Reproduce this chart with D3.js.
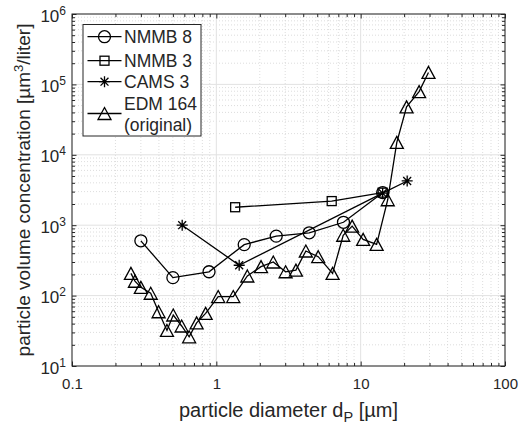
<!DOCTYPE html>
<html>
<head>
<meta charset="utf-8">
<script src="https://cdn.jsdelivr.net/npm/d3@7"></script>
<style>
  html, body { margin: 0; padding: 0; background: #fff; }
  svg { display: block; font-family: "Liberation Sans", Arial, Helvetica, sans-serif; }
</style>
</head>
<body>
<svg id="chart" width="532" height="427"></svg>
<script>
// Particle size distributions (volume concentration vs diameter)
const nmmb8X = [0.3, 0.5, 0.89, 1.56, 2.6, 4.4, 7.6, 14.2];
const nmmb8Y = [600, 180, 218, 530, 700, 780, 1100, 2900];

const nmmb3X = [1.35, 6.3, 14.2];
const nmmb3Y = [1800, 2200, 2900];

const cams3X = [0.58, 1.44, 14.2, 21];
const cams3Y = [1000, 270, 2850, 4250];

const edmX = [0.256, 0.273, 0.3, 0.351, 0.398, 0.455, 0.503, 0.575, 0.648, 0.73,
              0.843, 1.03, 1.31, 1.64, 2.04, 2.48, 3.02, 3.56, 4.17, 5.08,
              6.39, 7.57, 8.73, 10.4, 12.9, 15.4, 17.8, 20.8, 25.4, 29.5];
const edmY = [207, 160, 131, 108, 59, 32, 53, 37, 26, 41,
              56, 97, 97, 190, 258, 300, 218, 230, 430, 357,
              207, 720, 970, 630, 535, 2300, 15000, 48000, 79000, 148000];

const seriesNames = ["NMMB 8", "NMMB 3", "CAMS 3", "EDM 164", "(original)"];

const xTickValues = [0.1, 1, 10, 100];
const xTickLabels = ["0.1", "1", "10", "100"];
const yTickExponents = [1, 2, 3, 4, 5, 6];

const xLabel = "particle diameter d";
const xLabelSub = "P";
const xLabelTail = " [µm]";
const yLabelHead = "particle volume concentration [µm";
const yLabelSup = "3";
const yLabelTail = "/liter]";

// ---- layout ----
const plotL = 72, plotR = 505, plotT = 14, plotB = 366;
const ink = "#262626";

const svg = d3.select("#chart");

const x = d3.scaleLog().domain([0.1, 100]).range([plotL, plotR]);
const y = d3.scaleLog().domain([10, 1e6]).range([plotB, plotT]);

// minor tick positions (2..9 within each decade)
function minors(lo, hi) {
  const out = [];
  for (let e = Math.log10(lo); e < Math.log10(hi); e++) {
    for (let m = 2; m <= 9; m++) out.push(m * Math.pow(10, e));
  }
  return out;
}
const xMinor = minors(0.1, 100);
const yMinor = minors(10, 1e6);
const yMajor = yTickExponents.map(e => Math.pow(10, e));

// ---- grid ----
const grid = svg.append("g");
grid.selectAll(".gxm").data(xMinor).join("line")
  .attr("x1", d => x(d)).attr("x2", d => x(d))
  .attr("y1", plotT).attr("y2", plotB)
  .attr("stroke", "#d4d4d4").attr("stroke-width", 0.8)
  .attr("stroke-dasharray", "1,2");
grid.selectAll(".gym").data(yMinor).join("line")
  .attr("y1", d => y(d)).attr("y2", d => y(d))
  .attr("x1", plotL).attr("x2", plotR)
  .attr("stroke", "#d4d4d4").attr("stroke-width", 0.8)
  .attr("stroke-dasharray", "1,2");
grid.selectAll(".gx").data(xTickValues).join("line")
  .attr("x1", d => x(d)).attr("x2", d => x(d))
  .attr("y1", plotT).attr("y2", plotB)
  .attr("stroke", "#e2e2e2").attr("stroke-width", 1);
grid.selectAll(".gy").data(yMajor).join("line")
  .attr("y1", d => y(d)).attr("y2", d => y(d))
  .attr("x1", plotL).attr("x2", plotR)
  .attr("stroke", "#e2e2e2").attr("stroke-width", 1);

// ---- axes (ticks point inward on all four sides) ----
function styleAxis(g) {
  g.select(".domain").remove();
  g.selectAll(".tick line").attr("stroke", ink).attr("stroke-width", 1);
}
const majorLen = 4.5, minorLen = 3;

svg.append("g").attr("transform", `translate(0,${plotB})`)
  .call(d3.axisBottom(x).tickValues(xMinor).tickSize(-minorLen).tickFormat(""))
  .call(styleAxis);
const xAxisG = svg.append("g").attr("transform", `translate(0,${plotB})`)
  .call(d3.axisBottom(x).tickValues(xTickValues).tickSize(-majorLen).tickPadding(12)
        .tickFormat((d, i) => xTickLabels[i]))
  .call(styleAxis);
xAxisG.selectAll(".tick text")
  .attr("fill", ink).attr("font-size", 15).attr("font-family", null);

svg.append("g").attr("transform", `translate(0,${plotT})`)
  .call(d3.axisTop(x).tickValues(xMinor).tickSize(-minorLen).tickFormat(""))
  .call(styleAxis);
svg.append("g").attr("transform", `translate(0,${plotT})`)
  .call(d3.axisTop(x).tickValues(xTickValues).tickSize(-majorLen).tickFormat(""))
  .call(styleAxis);

svg.append("g").attr("transform", `translate(${plotL},0)`)
  .call(d3.axisLeft(y).tickValues(yMinor).tickSize(-minorLen).tickFormat(""))
  .call(styleAxis);
const yAxisG = svg.append("g").attr("transform", `translate(${plotL},0)`)
  .call(d3.axisLeft(y).tickValues(yMajor).tickSize(-majorLen).tickFormat(""))
  .call(styleAxis);

svg.append("g").attr("transform", `translate(${plotR},0)`)
  .call(d3.axisRight(y).tickValues(yMinor).tickSize(-minorLen).tickFormat(""))
  .call(styleAxis);
svg.append("g").attr("transform", `translate(${plotR},0)`)
  .call(d3.axisRight(y).tickValues(yMajor).tickSize(-majorLen).tickFormat(""))
  .call(styleAxis);

// y tick labels as 10 with superscript exponent
yAxisG.selectAll(".tick").each(function(d, i) {
  const t = d3.select(this).select("text")
    .attr("x", -6).attr("dy", null).attr("y", 7)
    .attr("text-anchor", "end").attr("fill", ink)
    .attr("font-size", 17).attr("font-family", null);
  t.text(null);
  t.append("tspan").text("10");
  t.append("tspan").attr("font-size", 12).attr("dy", -7).text(String(yTickExponents[i]));
});

// plot box
svg.append("rect")
  .attr("x", plotL).attr("y", plotT)
  .attr("width", plotR - plotL).attr("height", plotB - plotT)
  .attr("fill", "none").attr("stroke", ink).attr("stroke-width", 1);

// ---- markers ----
const lw = 1.3;
function drawMarker(g, kind, cx, cy) {
  if (kind === "circle") {
    g.append("circle").attr("cx", cx).attr("cy", cy).attr("r", 6)
      .attr("fill", "none").attr("stroke", "#000").attr("stroke-width", lw);
  } else if (kind === "square") {
    g.append("rect").attr("x", cx - 4.5).attr("y", cy - 4.5)
      .attr("width", 9).attr("height", 9)
      .attr("fill", "none").attr("stroke", "#000").attr("stroke-width", lw);
  } else if (kind === "triangle") {
    const hw = 6.5, hh = 6;
    g.append("path")
      .attr("d", `M${cx},${cy - hh}L${cx + hw},${cy + hh}L${cx - hw},${cy + hh}Z`)
      .attr("fill", "none").attr("stroke", "#000").attr("stroke-width", lw)
      .attr("stroke-linejoin", "miter");
  } else if (kind === "star") {
    const r = 5.5, d = r * 0.72;
    g.append("path")
      .attr("d", `M${cx - r},${cy}H${cx + r}M${cx},${cy - r}V${cy + r}` +
                 `M${cx - d},${cy - d}L${cx + d},${cy + d}M${cx - d},${cy + d}L${cx + d},${cy - d}`)
      .attr("stroke", "#000").attr("stroke-width", lw);
  }
}

const series = [
  { xs: nmmb8X, ys: nmmb8Y, marker: "circle" },
  { xs: nmmb3X, ys: nmmb3Y, marker: "square" },
  { xs: cams3X, ys: cams3Y, marker: "star" },
  { xs: edmX, ys: edmY, marker: "triangle" }
];

const line = d3.line().x(d => x(d[0])).y(d => y(d[1]));
const plot = svg.append("g");
series.forEach(s => {
  const pts = s.xs.map((v, i) => [v, s.ys[i]]);
  plot.append("path").attr("d", line(pts))
    .attr("fill", "none").attr("stroke", "#000").attr("stroke-width", lw);
  pts.forEach(p => drawMarker(plot, s.marker, x(p[0]), y(p[1])));
});

// ---- legend ----
const lg = svg.append("g");
lg.append("rect").attr("x", 83).attr("y", 24.5).attr("width", 118).attr("height", 111.5)
  .attr("fill", "#fff").attr("stroke", ink).attr("stroke-width", 1);
const legendRows = [
  { marker: "circle", cy: 36.7, labels: [[seriesNames[0], 36.7]] },
  { marker: "square", cy: 60.7, labels: [[seriesNames[1], 60.7]] },
  { marker: "star", cy: 81.7, labels: [[seriesNames[2], 81.7]] },
  { marker: "triangle", cy: 113.5, labels: [[seriesNames[3], 103.3], [seriesNames[4], 125]] }
];
legendRows.forEach(r => {
  lg.append("line").attr("x1", 87.5).attr("x2", 121.5)
    .attr("y1", r.cy).attr("y2", r.cy)
    .attr("stroke", "#000").attr("stroke-width", lw);
  drawMarker(lg, r.marker, 104.5, r.cy);
  r.labels.forEach(([txt, cy]) => {
    lg.append("text").attr("x", 124).attr("y", cy + 6.3)
      .attr("font-size", 17.5).attr("fill", ink).text(txt);
  });
});

// ---- axis labels ----
const xl = svg.append("text")
  .attr("x", (plotL + plotR) / 2).attr("y", 417)
  .attr("text-anchor", "middle").attr("font-size", 20).attr("fill", ink);
xl.append("tspan").text(xLabel);
xl.append("tspan").attr("font-size", 14.5).attr("dy", 5).text(xLabelSub);
xl.append("tspan").attr("dy", -5).text(xLabelTail);

const yl = svg.append("text")
  .attr("transform", `translate(29.5,${(plotT + plotB) / 2}) rotate(-90)`)
  .attr("text-anchor", "middle").attr("font-size", 19).attr("fill", ink);
yl.append("tspan").text(yLabelHead);
yl.append("tspan").attr("font-size", 13).attr("dy", -7).text(yLabelSup);
yl.append("tspan").attr("dy", 7).text(yLabelTail);
</script>
</body>
</html>
